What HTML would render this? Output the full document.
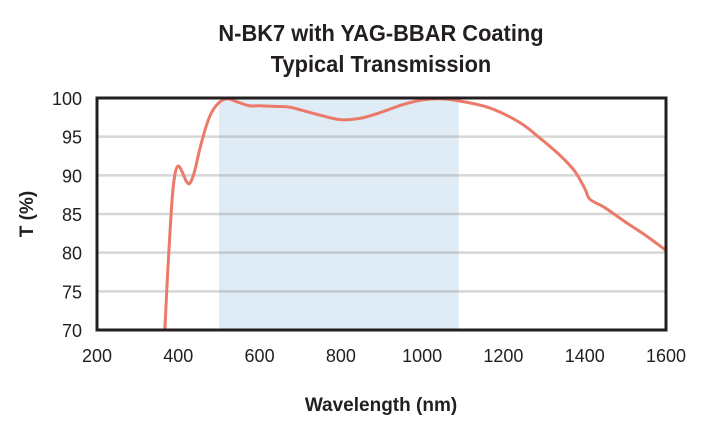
<!DOCTYPE html>
<html><head><meta charset="utf-8"><style>
body{margin:0;background:#fff;}
svg{display:block;font-family:"Liberation Sans",sans-serif;}
</style></head><body>
<svg id="chart" width="717" height="425">
<text x="381" y="41" text-anchor="middle" font-size="23" font-weight="bold" fill="#231f20" transform="translate(381,0) scale(0.95,1) translate(-381,0)">N-BK7 with YAG-BBAR Coating</text>
<text x="381" y="72" text-anchor="middle" font-size="23" font-weight="bold" fill="#231f20" transform="translate(381,0) scale(0.95,1) translate(-381,0)">Typical Transmission</text>
<text x="381" y="411" text-anchor="middle" font-size="19" font-weight="bold" fill="#231f20">Wavelength (nm)</text>
<text transform="translate(33,214) rotate(-90)" text-anchor="middle" font-size="19" font-weight="bold" fill="#231f20">T (%)</text>
<g id="plot"></g>
</svg>
<script>
const xTicks=[200,400,600,800,1000,1200,1400,1600];
const yTicks=[70,75,80,85,90,95,100];
const band=[500,1090];
const wl=[367,372,377,385,392,400,410,420,429,440,452,466,478,490,505,522,545,575,601,640,675,740,798,850,896,950,995,1044,1093,1167,1241,1290,1339,1376,1401,1413,1450,1499,1548,1600];
const tr=[70,75.5,80.3,87,90.2,91.2,90.4,89.2,89,90.5,93.2,95.9,97.7,98.8,99.6,99.9,99.5,99.0,99.0,98.9,98.8,97.9,97.2,97.4,98.1,99.1,99.7,99.9,99.6,98.7,96.8,94.8,92.6,90.5,88.2,86.9,85.8,84.0,82.3,80.3];
const X=v=>97+(v-200)*(569/1400);
const Y=v=>98+(100-v)*(232/30);
const g=document.getElementById('plot');
const NS='http://www.w3.org/2000/svg';
function mk(t,a){const e=document.createElementNS(NS,t);for(const k in a)e.setAttribute(k,a[k]);g.appendChild(e);return e;}
let r=mk('rect',{x:X(band[0]),y:Y(100),width:X(band[1])-X(band[0]),height:Y(70)-Y(100),fill:'#dfebf5'});


yTicks.forEach(v=>{
 if(v>70&&v<100){const l=mk('line',{x1:X(200),x2:X(1600),y1:Y(v),y2:Y(v),stroke:'#8a8a8a','stroke-opacity':0.35,'stroke-width':2.5});
 
 }
 const t=mk('text',{x:82,y:Y(v)+7,'text-anchor':'end','font-size':18,fill:'#231f20'});t.textContent=v;
 
 
});
xTicks.forEach(v=>{
 const t=mk('text',{x:X(v),y:362,'text-anchor':'middle','font-size':18,fill:'#231f20'});t.textContent=v;
 
 
});
const P=wl.map((w,i)=>[X(w),Y(tr[i])]);
let d='M'+P[0][0]+','+P[0][1];
for(let i=0;i<P.length-1;i++){const p0=P[i-1]||P[i],p1=P[i],p2=P[i+1],p3=P[i+2]||P[i+1];
 d+=` C${p1[0]+(p2[0]-p0[0])/6},${p1[1]+(p2[1]-p0[1])/6} ${p2[0]-(p3[0]-p1[0])/6},${p2[1]-(p3[1]-p1[1])/6} ${p2[0]},${p2[1]}`;}
const c=mk('path',{d:d,fill:'none',stroke:'#ec7a6a','stroke-width':3,'stroke-linejoin':'round'});


const f=mk('rect',{x:X(200),y:Y(100),width:X(1600)-X(200),height:Y(70)-Y(100),fill:'none',stroke:'#231f20','stroke-width':3});


</script>
</body></html>
